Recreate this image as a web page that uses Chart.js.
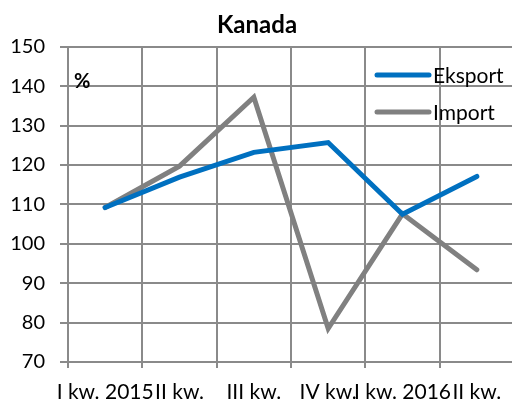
<!DOCTYPE html>
<html>
<head>
<meta charset="utf-8">
<script src="https://cdn.jsdelivr.net/npm/chart.js@4/dist/chart.umd.min.js"></script>
<style>
  html, body { margin: 0; padding: 0; background: #fff; overflow: hidden; }
  #wrap { width: 516px; height: 401px; }
</style>
</head>
<body>
<div id="wrap"><canvas id="chart"></canvas></div>
<script>
// dane
const kwartaly = ['I kw. 2015', 'II kw.', 'III kw.', 'IV kw.', 'I kw. 2016', 'II kw.'];
const eksport = [109.2, 116.9, 123.2, 125.7, 107.5, 117.1];
const importVal = [109.2, 119.7, 137.2, 78.5, 107.6, 93.4];
const yTicks = [70, 80, 90, 100, 110, 120, 130, 140, 150];

const FONT = 'Lato, "Open Sans", sans-serif';
const SZARY = '#8a8a8a';

// legenda i znak % rysowane wewnątrz obszaru wykresu
const legendaWewnatrz = {
    id: 'legendaWewnatrz',
    afterDatasetsDraw(chart) {
        const ctx = chart.ctx;
        const area = chart.chartArea;
        ctx.save();
        ctx.font = 'bold 20px ' + FONT;
        ctx.fillStyle = '#000';
        ctx.textBaseline = 'middle';
        ctx.textAlign = 'left';
        ctx.fillText('%', area.left + 6, 82);

        ctx.font = '21px ' + FONT;
        chart.data.datasets.forEach((ds, i) => {
            const y = 75 + i * 37;
            ctx.strokeStyle = ds.borderColor;
            ctx.lineWidth = 5;
            ctx.lineCap = 'round';
            ctx.beginPath();
            ctx.moveTo(377, y);
            ctx.lineTo(429, y);
            ctx.stroke();
            ctx.fillStyle = '#000';
            ctx.fillText(ds.label, 433, y + 1);
        });
        ctx.restore();
    }
};

const ctx = document.getElementById('chart').getContext('2d');
new Chart(ctx, {
    type: 'line',
    data: {
        labels: kwartaly,
        datasets: [
            { label: 'Eksport', data: eksport, borderColor: '#0070c0', backgroundColor: '#0070c0' },
            { label: 'Import', data: importVal, borderColor: '#808080', backgroundColor: '#808080' }
        ]
    },
    options: {
        responsive: true,
        maintainAspectRatio: false,
        animation: false,
        devicePixelRatio: 1,
        layout: { padding: { left: 0, right: 2, top: 0, bottom: 0 } },
        elements: {
            line: { borderWidth: 5, tension: 0, borderCapStyle: 'round', borderJoinStyle: 'miter' },
            point: { radius: 0, hoverRadius: 0 }
        },
        plugins: {
            legend: { display: false },
            tooltip: { enabled: false },
            title: {
                display: true,
                text: 'Kanada',
                color: '#000',
                font: { family: FONT, size: 24, weight: 'bold' },
                padding: { top: 11, bottom: 7 }
            }
        },
        scales: {
            x: {
                offset: true,
                grid: { offset: true, color: SZARY, lineWidth: 2, drawTicks: true, tickLength: 6 },
                border: { color: SZARY, width: 2 },
                ticks: {
                    color: '#000',
                    font: { family: FONT, size: 21 },
                    autoSkip: false,
                    maxRotation: 0,
                    minRotation: 0,
                    padding: 12
                },
                afterFit(scale) { scale.height = 39; }
            },
            y: {
                min: 70,
                max: 150,
                afterBuildTicks(scale) { scale.ticks = yTicks.map(v => ({ value: v })); },
                grid: { color: SZARY, lineWidth: 2, drawTicks: true, tickLength: 8 },
                border: { color: SZARY, width: 2 },
                ticks: {
                    color: '#000',
                    font: { family: FONT, size: 20 },
                    padding: 15
                },
                afterFit(scale) { scale.width = 68; }
            }
        }
    },
    plugins: [legendaWewnatrz]
});
</script>
</body>
</html>
